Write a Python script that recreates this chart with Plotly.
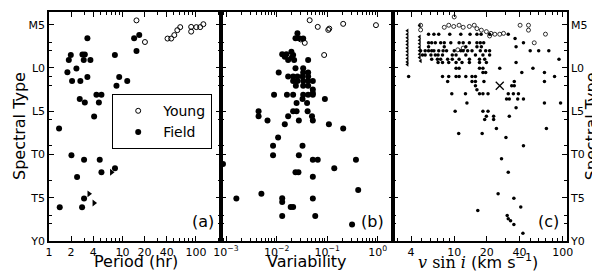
import plotly.graph_objects as go

# Spectral type numeric code: M5=5, L0=10, L5=15, T0=20, T5=25, Y0=30
SPT_TICKS = [5, 10, 15, 20, 25, 30]
SPT_LABELS = ["M5", "L0", "L5", "T0", "T5", "Y0"]
SPT_MINOR = [7, 8, 11, 12, 16, 19, 23, 27, 28]

# ---- Panel (a): rotation period ----
A_FIELD_P = [3.33, 14.4, 16.9, 15.5, 1.86, 1.98, 2.85, 3.07, 2.97, 3.66, 7.88, 2.36, 1.78,
             2.06, 2.67, 3.33, 9.02, 8.28, 11.6, 2.62, 3.07, 4.42, 5.17, 4.77, 4.11, 1.37,
             2.02, 3.0, 4.9, 5.17, 7.9, 2.41, 3.0, 1.4, 2.82]
A_FIELD_SPT = [6.55, 6.55, 6.2, 8.05, 9.07, 8.5, 8.45, 8.45, 9.07, 9.07, 8.5, 10.07, 10.5,
               11.5, 11.5, 11.05, 11.05, 12.05, 11.5, 13.6, 14.0, 13.1, 13.1, 14.0, 15.6, 17.0,
               20.08, 20.6, 20.6, 22.06, 21.6, 22.6, 25.1, 26.1, 26.1]
A_LIMIT_P = [7.1, 3.5, 4.1]
A_LIMIT_SPT = [22.06, 24.55, 25.6]
A_YOUNG_P = [15.5, 20.2, 41, 46, 50.7, 55.7, 61, 86, 86, 101, 114, 126]
A_YOUNG_SPT = [4.5, 7.0, 6.6, 6.6, 6.2, 5.63, 5.28, 5.25, 5.8, 5.28, 5.28, 4.94]

# ---- Panel (b): variability amplitude ----
B_FIELD_V = [0.0258, 0.0236, 0.0275, 0.0335, 0.0129, 0.0156, 0.0196, 0.0212, 0.042, 0.0169,
             0.0222, 0.0145, 0.020, 0.011, 0.0236, 0.0335, 0.0335, 0.042, 0.0169, 0.0212,
             0.0258, 0.0325, 0.042, 0.0212, 0.0258, 0.0335, 0.042, 0.052, 0.024, 0.0335,
             0.042, 0.052, 0.052, 0.0089, 0.016, 0.0212, 0.0335, 0.042, 0.052, 0.09, 0.0248,
             0.0325, 0.040, 0.0044, 0.0044, 0.0066, 0.0169, 0.0212, 0.0248, 0.041, 0.050,
             0.052, 0.0145, 0.0275, 0.108, 0.207, 0.0107, 0.0085, 0.0085, 0.0325, 0.0275,
             0.052, 0.065, 0.37, 0.00087, 0.138, 0.0236, 0.027, 0.052, 0.41, 0.005, 0.0016,
             0.0129, 0.0129, 0.052, 0.019, 0.0212, 0.0129, 0.058, 0.31]
B_FIELD_SPT = [6.0, 6.55, 6.55, 6.6, 8.42, 8.42, 8.12, 8.5, 9.07, 9.07,
               9.07, 8.7, 8.8, 10.53, 10.03, 10.03, 10.53, 10.53, 10.99, 10.99,
               10.99, 10.99, 10.99, 11.51, 11.51, 11.51, 11.51, 11.51, 12.05, 12.05,
               12.05, 12.5, 12.9, 13.1, 13.1, 13.1, 13.1, 13.1, 13.1, 13.6, 14.04,
               13.6, 14.04, 15.0, 15.57, 16.07, 15.57, 15.0, 15.0, 15.0, 15.57,
               16.07, 16.5, 16.07, 16.5, 17.0, 18.05, 19.0, 20.08, 19.0, 20.08,
               20.6, 20.6, 20.6, 21.1, 21.6, 22.06, 22.06, 22.57, 24.1, 24.55, 25.1,
               25.05, 25.5, 25.1, 26.08, 26.08, 27.1, 27.1, 28.1]
B_YOUNG_V = [0.045, 0.065, 0.105, 0.11, 0.207, 0.92, 0.087, 0.036, 0.030]
B_YOUNG_SPT = [4.48, 5.25, 5.6, 5.45, 4.9, 5.05, 8.5, 7.1, 6.7]

# ---- Panel (c): v sin i ----
C_FIELD_V = [5.8, 6.5, 7.2, 9.1, 11.5, 14.0, 16.2, 17.7, 21.2, 31.5,
             36.4,
             5.8, 6.2, 6.7, 7.5, 8.1, 9.3, 11.1, 12.1, 13.8, 16.2, 17.4, 18.7, 43.5,
             5.8, 8.1, 12.8, 16.2, 17.8, 37.2,
             4.9, 5.4, 5.8, 6.2, 6.5, 7.2, 7.9, 8.5, 10.0, 11.5, 12.1, 13.3, 14.6, 17.4,
             19.5, 21.2, 50.2, 60.1, 74.5,
             5.1, 5.4, 6.1, 6.7, 7.1, 7.8, 9.6, 10.4, 12.8, 15.7, 18.4, 21.2,
             6.2, 7.0, 7.5, 8.7, 9.6, 11.1, 13.8, 17.1, 19.1, 92.5,
             7.1, 7.8, 8.9, 10.4, 11.8, 13.8, 17.1, 19.8, 37.2,
             10.4, 11.1, 17.1, 18.4, 26.3, 53.2,
             18.4, 19.5, 42.0, 67.9,
             3.8, 7.8, 8.9, 10.4, 11.1, 12.8, 14.6, 15.7, 84.2,
             8.7, 14.6, 15.7, 18.8, 35.8, 67.9,
             15.7, 33.9, 35.8,
             16.2,
             9.5, 12.7, 17.1, 18.4, 20.5, 31.5, 35.1, 39.1,
             30.4, 32.2, 38.5, 43.5,
             13.1, 67.9, 95.7,
             37.2,
             10.2, 18.4, 20.5,
             19.8, 23.1, 32.2,
             19.1, 23.1,
             24.5, 70.8,
             11.0, 18.1,
             30.0, 43.5, 27.3, 31.5, 25.4, 35.5, 41.1, 16.5, 30.8, 31.5, 33.1, 35.5, 43.0]
C_FIELD_SPT = [6.09] * 10 + [6.59] + [7.09] * 13 + [7.55] * 6 + [8.0] * 19 + [8.5] * 12 + \
    [9.0] * 10 + [9.38] * 9 + [10.03] * 6 + [10.53] * 4 + [10.99] * 9 + [11.56] * 6 + \
    [12.05] * 3 + [12.51] + [12.97] * 8 + [13.58] * 4 + [14.04] * 3 + [14.61] + [15.0] * 3 + \
    [15.57] * 3 + [15.95] * 2 + [17.0] * 2 + [17.56] * 2 + \
    [18.05, 19.0, 20.5, 22.06, 24.55, 25.05, 26.08, 26.47, 27.04, 27.42, 27.65, 28.1, 29.1]
C_YOUNG_V = [10.0, 4.9, 4.9, 8.1, 8.9, 9.9, 11.1, 12.1, 13.8, 15.3, 16.2, 17.8, 19.8, 21.8,
             23.7, 26.3, 28.5, 40.5, 48.4, 48.4, 69.4, 54.7, 12.1, 21.2, 10.8]
C_YOUNG_SPT = [4.1, 5.06, 5.6, 5.3, 5.06, 5.2, 5.06, 5.3, 5.2, 5.06, 5.45, 5.63, 5.8, 6.0,
               6.1, 6.1, 6.0, 5.06, 5.06, 5.63, 6.09, 7.09, 7.7, 6.3, 7.9]
C_LIMIT_V = [3.7, 3.7, 3.7, 3.7, 3.7, 3.7, 3.7, 3.7, 3.7, 3.7, 3.7,
             4.8, 4.8, 4.8, 4.8, 4.8, 4.8, 4.8, 4.8, 4.9]
C_LIMIT_SPT = [5.7, 6.1, 6.5, 6.9, 7.3, 7.7, 8.1, 8.5, 8.9, 9.3, 9.6,
               5.1, 6.4, 6.8, 7.2, 7.6, 8.0, 8.4, 8.8, 9.2]
C_X_V = [26.3]
C_X_SPT = [12.05]

A_TICKS = [1, 2, 4, 10, 20, 40, 100]
A_MINOR = [3, 5, 6, 7, 8, 9, 30, 50, 60, 70, 80, 90, 200]
B_TICKS = [1e-3, 1e-2, 1e-1, 1]
B_LABELS = ["10<sup>−3</sup>", "10<sup>−2</sup>", "10<sup>−1</sup>", "10<sup>0</sup>"]
B_MINOR = [m * 10.0 ** e for e in (-4, -3, -2, -1, 0) for m in range(2, 10)]
C_TICKS = [4, 10, 20, 40, 100]
C_MINOR = [3, 5, 6, 7, 8, 9, 30, 50, 60, 70, 80, 90]

FONT = "DejaVu Sans"
BLACK = "black"

fig = go.Figure()

field_big = dict(color=BLACK, size=6, symbol="circle")
young_big = dict(color=BLACK, size=5, symbol="circle-open", line=dict(color=BLACK, width=1))

fig.add_trace(go.Scatter(x=A_YOUNG_P, y=A_YOUNG_SPT, mode="markers", name="Young",
                         marker=young_big, xaxis="x", yaxis="y"))
fig.add_trace(go.Scatter(x=A_FIELD_P, y=A_FIELD_SPT, mode="markers", name="Field",
                         marker=field_big, xaxis="x", yaxis="y"))
fig.add_trace(go.Scatter(x=A_LIMIT_P, y=A_LIMIT_SPT, mode="markers", showlegend=False,
                         marker=dict(color=BLACK, size=6, symbol="triangle-right"),
                         xaxis="x", yaxis="y"))

fig.add_trace(go.Scatter(x=B_FIELD_V, y=B_FIELD_SPT, mode="markers", showlegend=False,
                         marker=field_big, xaxis="x2", yaxis="y2"))
fig.add_trace(go.Scatter(x=B_YOUNG_V, y=B_YOUNG_SPT, mode="markers", showlegend=False,
                         marker=young_big, xaxis="x2", yaxis="y2"))

fig.add_trace(go.Scatter(x=C_FIELD_V, y=C_FIELD_SPT, mode="markers", showlegend=False,
                         marker=dict(color=BLACK, size=3.5, symbol="circle"),
                         xaxis="x3", yaxis="y3"))
fig.add_trace(go.Scatter(x=C_YOUNG_V, y=C_YOUNG_SPT, mode="markers", showlegend=False,
                         marker=dict(color=BLACK, size=4, symbol="circle-open",
                                     line=dict(color=BLACK, width=0.8)),
                         xaxis="x3", yaxis="y3"))
fig.add_trace(go.Scatter(x=C_LIMIT_V, y=C_LIMIT_SPT, mode="markers", showlegend=False,
                         marker=dict(color=BLACK, size=4, symbol="triangle-left"),
                         xaxis="x3", yaxis="y3"))
fig.add_trace(go.Scatter(x=C_X_V, y=C_X_SPT, mode="markers", showlegend=False,
                         marker=dict(color=BLACK, size=8, symbol="x-thin-open",
                                     line=dict(color=BLACK, width=1.3)),
                         xaxis="x3", yaxis="y3"))

tickfont = dict(family=FONT, size=11, color=BLACK)
titlefont = dict(family=FONT, size=16, color=BLACK)

common_axis = dict(showline=True, linecolor=BLACK, linewidth=1.5, mirror="ticks",
                   ticks="inside", ticklen=5, tickwidth=1, tickcolor=BLACK,
                   showgrid=False, zeroline=False, tickfont=tickfont)


def xaxis(domain, rng, tickvals, ticktext, minor):
    d = dict(common_axis)
    d.update(type="log", domain=domain, range=rng, tickmode="array", tickvals=tickvals,
             ticktext=ticktext,
             minor=dict(tickmode="array", tickvals=minor, ticks="inside", ticklen=3,
                        tickcolor=BLACK, tickwidth=1, showgrid=False))
    return d


def yaxis(anchor, side, show_labels):
    d = dict(common_axis)
    d.update(range=[30, 3.53], tickmode="array", tickvals=SPT_TICKS, ticktext=SPT_LABELS,
             anchor=anchor, side=side, showticklabels=show_labels,
             minor=dict(tickmode="array", tickvals=SPT_MINOR, ticks="inside", ticklen=3,
                        tickcolor=BLACK, tickwidth=1, showgrid=False))
    return d


fig.update_layout(
    width=600, height=274,
    margin=dict(l=41, r=41, t=2, b=41),
    paper_bgcolor="white", plot_bgcolor="white",
    font=dict(family=FONT, color=BLACK),
    xaxis=xaxis([0, 0.332], [0, 2.34], A_TICKS, [str(v) for v in A_TICKS], A_MINOR),
    xaxis2=xaxis([0.332, 0.665], [-3.1, 0.31], B_TICKS, B_LABELS, B_MINOR),
    xaxis3=xaxis([0.665, 1.0], [0.44, 2.04], C_TICKS, [str(v) for v in C_TICKS], C_MINOR),
    yaxis=yaxis("x", "left", True),
    yaxis2=yaxis("x2", "left", False),
    yaxis3=yaxis("x3", "right", True),
    legend=dict(x=0.122, y=0.641, xanchor="left", yanchor="top", bgcolor="white",
                bordercolor=BLACK, borderwidth=1, font=dict(family=FONT, size=14, color=BLACK),
                tracegroupgap=0, itemwidth=40),
    showlegend=True,
)

# axis titles
X_TITLES = [("Period (hr)", 0.168), ("Variability", 0.498),
            ("<span style=\"font-family:'DejaVu Serif'\"><i>v</i> sin <i>i</i></span> (km s<sup>−1</sup>)", 0.828)]
for txt, xc in X_TITLES:
    fig.add_annotation(text=txt, x=xc, y=-0.088, xref="paper", yref="paper",
                       xanchor="center", yanchor="middle", showarrow=False, font=titlefont)
fig.add_annotation(text="Spectral Type", x=-0.0772, y=0.5, xref="paper", yref="paper",
                   xanchor="left", yanchor="middle", textangle=-90, showarrow=False,
                   font=titlefont, borderpad=0)
fig.add_annotation(text="Spectral Type", x=1.048, y=0.5, xref="paper", yref="paper",
                   xanchor="center", yanchor="middle", textangle=-90, showarrow=False,
                   font=titlefont, borderpad=0)

for txt, xr in (("(a)", 0.3224), ("(b)", 0.6506), ("(c)", 0.988)):
    fig.add_annotation(text=txt, x=xr, y=0.084, xref="paper", yref="paper",
                       xanchor="right", yanchor="middle", showarrow=False,
                       font=dict(family=FONT, size=16, color=BLACK))

fig.write_html("out.html")
